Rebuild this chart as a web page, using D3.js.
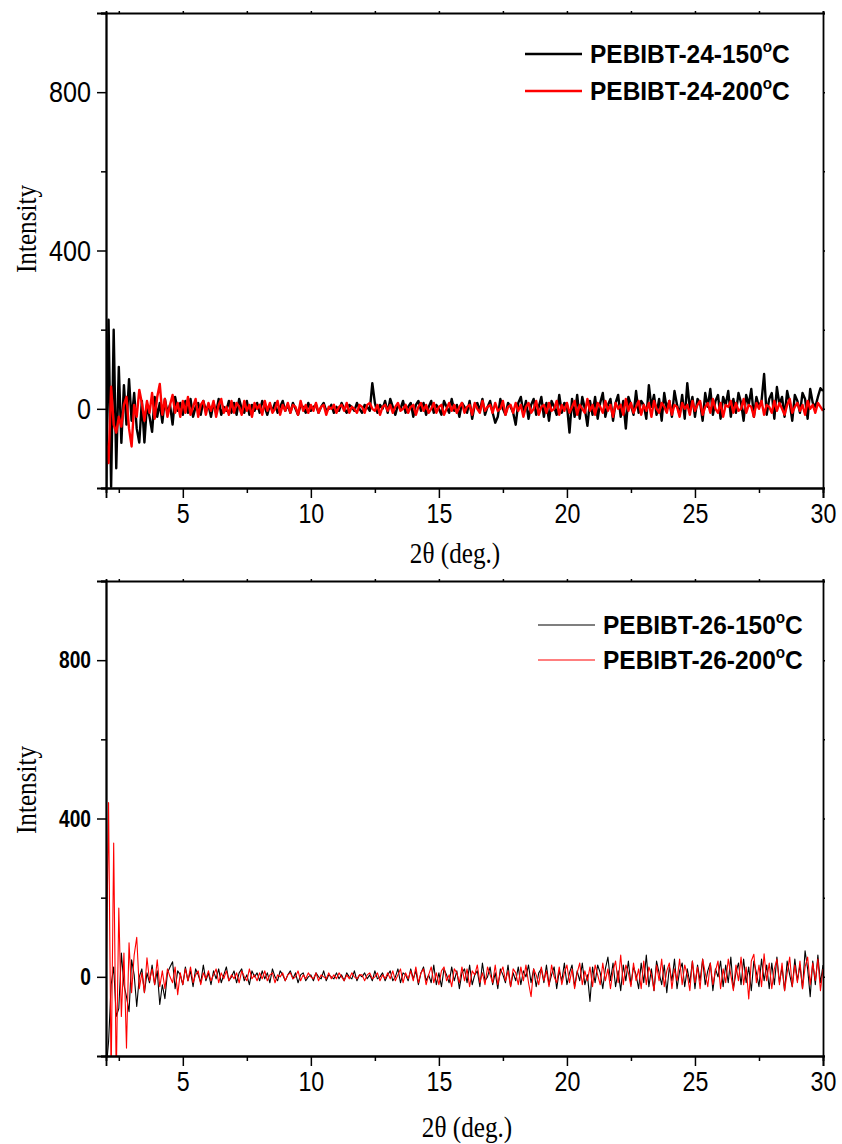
<!DOCTYPE html>
<html>
<head>
<meta charset="utf-8">
<script src="https://cdn.jsdelivr.net/npm/d3@7/dist/d3.min.js"></script>
<style>
  body { margin: 0; background: #fff; }
  .tick text { font-family: "Liberation Sans", Arial, sans-serif; fill: #000; }
  .axis path, .axis line { stroke: #000; }
</style>
</head>
<body>
<script>
// 2-theta grid: 2.0 to 30.0 deg, step 0.1
var thetaStart = 2, thetaStep = 0.1;
var xTicks = [5, 10, 15, 20, 25, 30];
var xMinor = [2.5, 7.5, 12.5, 17.5, 22.5, 27.5];
var yTicks = [0, 400, 800];
var yMinor = [-200, 200, 600, 1000];

var seriesNames = ["PEBIBT-24-150", "PEBIBT-24-200", "PEBIBT-26-150", "PEBIBT-26-200"];

// top panel, 150 C (black)
var pebibt24_150 = [
  -240, 225, -197, 200, -150, 106, -86, 60, -40, 75,
  -30, 40, -50, -85, 20, -85, 10, -20, -58, 30,
  -20, 15, -35, 25, -10, 10, -40, 30, -5, 15,
  -15, 20, -10, 25, -20, 5, 15, -15, 20, -5,
  10, -20, 15, -10, 25, -15, 5, -5, 20, -10,
  15, -15, 25, 0, -10, 20, -15, 10, -5, 15,
  -10, 20, 5, -15, 10, -5, 15, -10, 5, 20,
  -5, 10, -10, 15, 0, -15, 10, 5, -10, 15,
  -5, 5, 10, -10, 5, 15, -5, 0, 10, -10,
  5, -5, 15, 0, -10, 10, 5, -5, 15, 0,
  -10, 10, 5, -5, 65, 15, -10, 10, 0, 20,
  -10, 25, 5, -15, 10, 0, 20, -10, 5, 15,
  -20, 10, 20, -5, 15, -15, 5, 20, -10, 10,
  0, -15, 20, 5, -10, 25, -5, 10, -20, 15,
  5, -10, 20, -25, 10, 15, -5, 25, -15, 5,
  20, -10, -35, -20, 25, 0, -15, 15, 5, -10,
  -40, 15, 30, -10, 20, -25, 10, 25, -15, 5,
  30, -20, 15, -30, 20, 5, -15, 35, -10, 15,
  10, -60, 25, -20, 35, -25, 30, 0, -43, 20,
  -15, 30, -25, 15, 40, -20, 10, 25, -30, 15,
  35, -20, 20, -50, 30, 10, -15, 45, -10, 20,
  10, -25, 60, 5, 35, -15, 25, -30, 40, 0,
  20, -20, 45, 10, -15, 35, -25, 65, 0, 30,
  -20, 25, 15, -30, 40, 5, 50, -15, 20, 35,
  -25, 30, 10, 45, -20, 25, -10, 40, 15, -30,
  35, 10, 50, -20, 30, 5, 20, 88, -15, 25,
  40, -25, 55, 10, 30, -20, 45, 15, -30, 35,
  20, -10, 40, 25, -25, 50, 15, 5, 30, 52,
  45
];

// top panel, 200 C (red)
var pebibt24_200 = [
  -80, -137, 56, -40, -60, -20, -45, 10, 30, -50,
  -95, 10, -20, 48, 15, -30, 20, -10, 40, -25,
  30, 63, -15, 25, -20, 10, 35, -10, 15, -20,
  20, -10, 30, -15, 5, 25, -20, 10, 20, -15,
  15, -5, 20, -20, 10, 25, -10, 5, -15, 20,
  -10, 15, 5, -15, 20, -5, 10, -20, 15, 0,
  10, -15, 20, -5, 15, -10, 0, 20, -15, 10,
  -5, 15, -10, 10, 5, -15, 20, -5, 10, -10,
  10, -5, 15, -10, 5, 10, -15, 5, 0, 10,
  -10, 5, 10, -5, 15, -10, 5, 0, -10, 10,
  5, -10, 10, 15, 0, -5, 10, -15, 5, 10,
  -5, 10, -10, 5, 15, -5, 0, 10, -10, 5,
  10, -15, 5, 15, -5, 10, -10, 0, 15, -10,
  5, 10, -15, 0, 15, -5, 10, -10, 5, 15,
  -10, 5, 10, -15, 15, 0, -10, 20, -5, 5,
  10, -10, 15, -5, 0, 20, -15, 5, 10, -10,
  15, -5, 10, -20, 5, 15, -10, 0, 20, -15,
  5, 10, -10, 15, -5, 0, 20, -15, 10, -5,
  15, -10, 5, 20, -15, 10, 0, -10, 25, -5,
  10, -15, 15, 5, -10, 20, -5, 10, -20, 15,
  0, 10, -15, 25, -5, 15, -10, 5, 20, -15,
  10, -5, 15, -20, 20, 0, -10, 15, 5, -10,
  20, -15, 10, 5, -20, 15, 0, 10, -15, 20,
  -5, 10, 20, -15, 5, 15, -10, 25, 0, -10,
  15, -20, 10, 5, 20, -10, 15, -5, 0, 25,
  -10, 10, 5, -20, 15, 0, 20, -15, 10, 5,
  -10, 20, -5, 15, 0, -15, 10, 25, -10, 5,
  15, -5, 10, -15, 20, 0, 10, -10, 15, 5,
  -5
];

// bottom panel, 150 C (black)
var pebibt26_150 = [
  -240, -164, -20, 25, -100, -80, 60, -20, -50, -88,
  43, 5, -75, 0, 20, -40, 10, -15, 30, -20,
  15, -70, -20, -55, 10, 25, 38, -30, 15, 5,
  -20, 25, -10, 15, -25, 20, 5, -15, 30, -10,
  10, -20, 15, -5, 20, -15, 5, 25, -10, 0,
  15, -15, 10, 20, -10, 5, -20, 15, 0, 10,
  -10, 15, -5, 10, -15, 20, 0, -10, 15, 5,
  -10, 5, 15, -5, 10, -15, 5, 10, -10, 0,
  5, -10, 10, 0, -5, 15, -10, 5, 0, -5,
  10, -5, 5, -10, 10, 0, -5, 15, -10, 5,
  0, 10, -5, 5, -10, 15, -5, 0, 10, -10,
  5, 15, -10, 0, 20, -15, 10, 5, -10, 20,
  -5, 15, -20, 10, 25, -10, 5, -15, 30, -20,
  10, -25, 20, 5, -15, 25, -10, 15, -30, 10,
  20, -15, 30, -20, 5, 15, -25, 35, -10, 0,
  25, -20, 10, -30, 20, 5, -15, 30, -25, 10,
  -10, 25, -20, 15, 0, 30, -15, 20, -25, 10,
  20, -15, 30, -20, 5, 25, -30, 15, -10, 35,
  -20, 10, 30, -25, 15, -10, 35, -20, 5, -62,
  25, -15, 30, 10, -30, 20, 50, -10, 35, -25,
  15, -35, 30, -10, 40, -20, 25, 5, -30, 35,
  -15, 55, -25, 20, -35, 40, 10, -20, 30, -40,
  25, -10, 45, -30, 15, 35, -25, 20, -15, 40,
  -30, 30, -10, 45, -20, 15, 35, -35, 20, 0,
  40, -25, 30, -15, 50, -30, 10, 35, -20, 45,
  -15, 25, -35, 40, 10, -25, 45, -10, 30, -30,
  35, -20, 50, -15, 25, -35, 40, 5, -25, 45,
  -10, 30, -30, 66, 20, -50, 40, -20, 55, -15,
  30
];

// bottom panel, 200 C (red)
var pebibt26_200 = [
  -50, 440, -260, 338, -260, 174, -100, 60, -180, 86,
  -40, 55, 100, -30, 10, -40, 48, -10, 20, -20,
  43, -25, 15, -30, 20, 0, -15, 25, -45, 10,
  -20, 20, -10, 25, -15, 5, 15, -20, 10, -5,
  15, -10, 5, 20, -15, 10, -5, 15, -10, 5,
  -5, 10, -15, 15, 0, -10, 20, -5, 5, -10,
  10, -5, 15, -10, 5, 10, -15, 5, 0, 10,
  -10, 5, 10, -5, 0, 15, -10, 5, -5, 10,
  0, -5, 10, -10, 5, 0, -5, 10, -5, 5,
  -5, 10, 0, -10, 5, -5, 10, 0, -5, 5,
  5, -10, 5, 10, -5, 0, 10, -10, 5, -5,
  10, -5, 15, -10, 5, 20, -15, 10, -5, 15,
  -10, 25, -15, 10, 20, -20, 5, 25, -15, 10,
  -20, 15, 25, -10, 5, -25, 20, 10, -15, 25,
  -10, 20, -25, 15, 5, 30, -15, 10, -20, 25,
  5, -15, 30, -20, 10, 25, -10, 15, -25, 20,
  10, -20, 25, -10, 30, -15, -50, 20, 5, -20,
  25, -10, 15, -25, 30, 0, -15, 25, -20, 10,
  30, -15, 20, -30, 10, 35, -20, 15, -10, 25,
  -25, 30, 5, -20, 35, -10, 20, -30, 15, 40,
  -15, 55, -20, 30, 10, -25, 35, -10, 20, -30,
  40, -20, 25, 5, -35, 30, -10, 45, -25, 15,
  35, -30, 20, -10, 45, -20, 30, 5, -35, 40,
  -15, 25, -30, 45, 10, -25, 35, -20, 15, 40,
  -30, 20, -15, 45, 5, -35, 30, -10, 50, -20,
  25, -56, 40, 57, -15, 30, -25, 58, -10, 35,
  -30, 20, 45, -20, 35, -35, 10, 50, -25, 30,
  -15, 40, -30, 25, 50, -20, 35, -10, 45, -35,
  20
];

var svgWidth = 842;
var svgHeight = 1144;

var svg = d3.select("body")
  .append("svg")
  .attr("width", svgWidth)
  .attr("height", svgHeight);

function toPoints(values) {
  return values.map(function(v, i) {
    return { theta: thetaStart + i * thetaStep, intensity: v };
  });
}

// one panel of the figure
function drawPanel(p) {
  var xScale = d3.scaleLinear().domain([2, 30]).range([p.left, p.right]);
  var yScale = d3.scaleLinear().domain([-200, 1000]).range([p.bottom, p.top]);

  var clipId = "clip-" + p.id;
  svg.append("clipPath").attr("id", clipId)
    .append("rect")
    .attr("x", p.left).attr("y", p.top)
    .attr("width", p.right - p.left).attr("height", p.bottom - p.top);

  var line = d3.line()
    .x(function(d) { return xScale(d.theta); })
    .y(function(d) { return yScale(d.intensity); });

  var plot = svg.append("g").attr("clip-path", "url(#" + clipId + ")");
  p.series.forEach(function(s) {
    plot.append("path")
      .datum(toPoints(s.values))
      .attr("fill", "none")
      .attr("stroke", s.color)
      .attr("stroke-width", p.lineWidth)
      .attr("stroke-linejoin", "round")
      .attr("d", line);
  });

  // axes
  var bottomAxis = d3.axisBottom(xScale).tickValues(xTicks).tickSize(10).tickPadding(6)
    .tickFormat(d3.format("d"));
  var bottomMinor = d3.axisBottom(xScale).tickValues(xMinor).tickSize(5).tickFormat("");
  var topMinor = d3.axisTop(xScale).tickValues(xTicks.concat(xMinor)).tickSize(2).tickFormat("");
  var leftAxis = d3.axisLeft(yScale).tickValues(yTicks).tickSize(9).tickPadding(6);
  var leftMinor = d3.axisLeft(yScale).tickValues(yMinor).tickSize(5).tickFormat("");
  var rightMinor = d3.axisRight(yScale).tickValues(yTicks.concat(yMinor)).tickSize(2).tickFormat("");

  // condensed look of the original labels
  var gx = svg.append("g").attr("class", "axis")
    .attr("transform", "translate(0," + p.bottom + ")").call(bottomAxis);
  gx.selectAll("text")
    .style("font-size", p.xFont + "px")
    .attr("transform", "scale(0.86,1)");
  svg.append("g").attr("class", "axis")
    .attr("transform", "translate(0," + p.bottom + ")").call(bottomMinor);
  svg.append("g").attr("class", "axis")
    .attr("transform", "translate(0," + p.top + ")").call(topMinor);
  var gy = svg.append("g").attr("class", "axis")
    .attr("transform", "translate(" + p.left + ",0)").call(leftAxis);
  gy.selectAll("text")
    .style("font-size", p.yFont + "px")
    .style("font-weight", p.yBold ? "bold" : "normal")
    .attr("x", -15 / p.yScaleX)
    .attr("transform", "scale(" + p.yScaleX + ",1)");
  svg.append("g").attr("class", "axis")
    .attr("transform", "translate(" + p.left + ",0)").call(leftMinor);
  svg.append("g").attr("class", "axis")
    .attr("transform", "translate(" + p.right + ",0)").call(rightMinor);

  svg.selectAll(".axis line").attr("stroke-width", 1.5);
  svg.selectAll(".axis path").attr("stroke-width", 1.8);

  // axis titles
  svg.append("text")
    .attr("transform", "translate(" + p.yTitleX + "," + p.yTitleY + ") rotate(-90) scale(0.9,1.05)")
    .attr("text-anchor", "middle")
    .style("font-family", "'Liberation Serif', 'Times New Roman', serif")
    .style("font-size", "28px")
    .text("Intensity");

  svg.append("text")
    .attr("transform", "translate(" + p.xTitleX + "," + p.xTitleY + ") scale(0.9,1.05)")
    .attr("text-anchor", "middle")
    .style("font-family", "'Liberation Serif', 'Times New Roman', serif")
    .style("font-size", "28px")
    .text("2\u03b8 (deg.)");

  // legend
  var legend = svg.append("g");
  p.series.forEach(function(s, i) {
    var ly = p.legendY + i * p.legendGap;
    legend.append("line")
      .attr("x1", p.legendX).attr("x2", p.legendX + 57)
      .attr("y1", ly).attr("y2", ly)
      .attr("stroke", s.color).attr("stroke-width", p.lineWidth);
    var t = legend.append("text")
      .attr("transform", "translate(" + (p.legendX + 65) + "," + (ly + 9) + ") scale(1.02,1.08)")
      .style("font-family", "'Liberation Sans', Arial, sans-serif")
      .style("font-weight", "bold")
      .style("font-size", "24px");
    t.append("tspan").text(s.name + "-" + s.temp);
    t.append("tspan").attr("dy", -10).style("font-size", "15px").text("o");
    t.append("tspan").attr("dy", 10).text("C");
  });
}

drawPanel({
  id: "top", left: 106, right: 823, top: 13, bottom: 488,
  lineWidth: 2.4, xFont: 27, yFont: 30, yBold: false, yScaleX: 0.84,
  yTitleX: 36, yTitleY: 229, xTitleX: 455, xTitleY: 563,
  legendX: 525, legendY: 54, legendGap: 37,
  series: [
    { name: seriesNames[0].slice(0, 9), temp: "150", color: "#000", values: pebibt24_150 },
    { name: seriesNames[1].slice(0, 9), temp: "200", color: "#ff0000", values: pebibt24_200 }
  ]
});

drawPanel({
  id: "bottom", left: 106, right: 823, top: 581, bottom: 1056,
  lineWidth: 1.1, xFont: 27, yFont: 24, yBold: true, yScaleX: 0.8,
  yTitleX: 36, yTitleY: 790, xTitleX: 467, xTitleY: 1137,
  legendX: 538, legendY: 625, legendGap: 35,
  series: [
    { name: seriesNames[2].slice(0, 9), temp: "150", color: "#000", values: pebibt26_150 },
    { name: seriesNames[3].slice(0, 9), temp: "200", color: "#ff0000", values: pebibt26_200 }
  ]
});
</script>
</body>
</html>
